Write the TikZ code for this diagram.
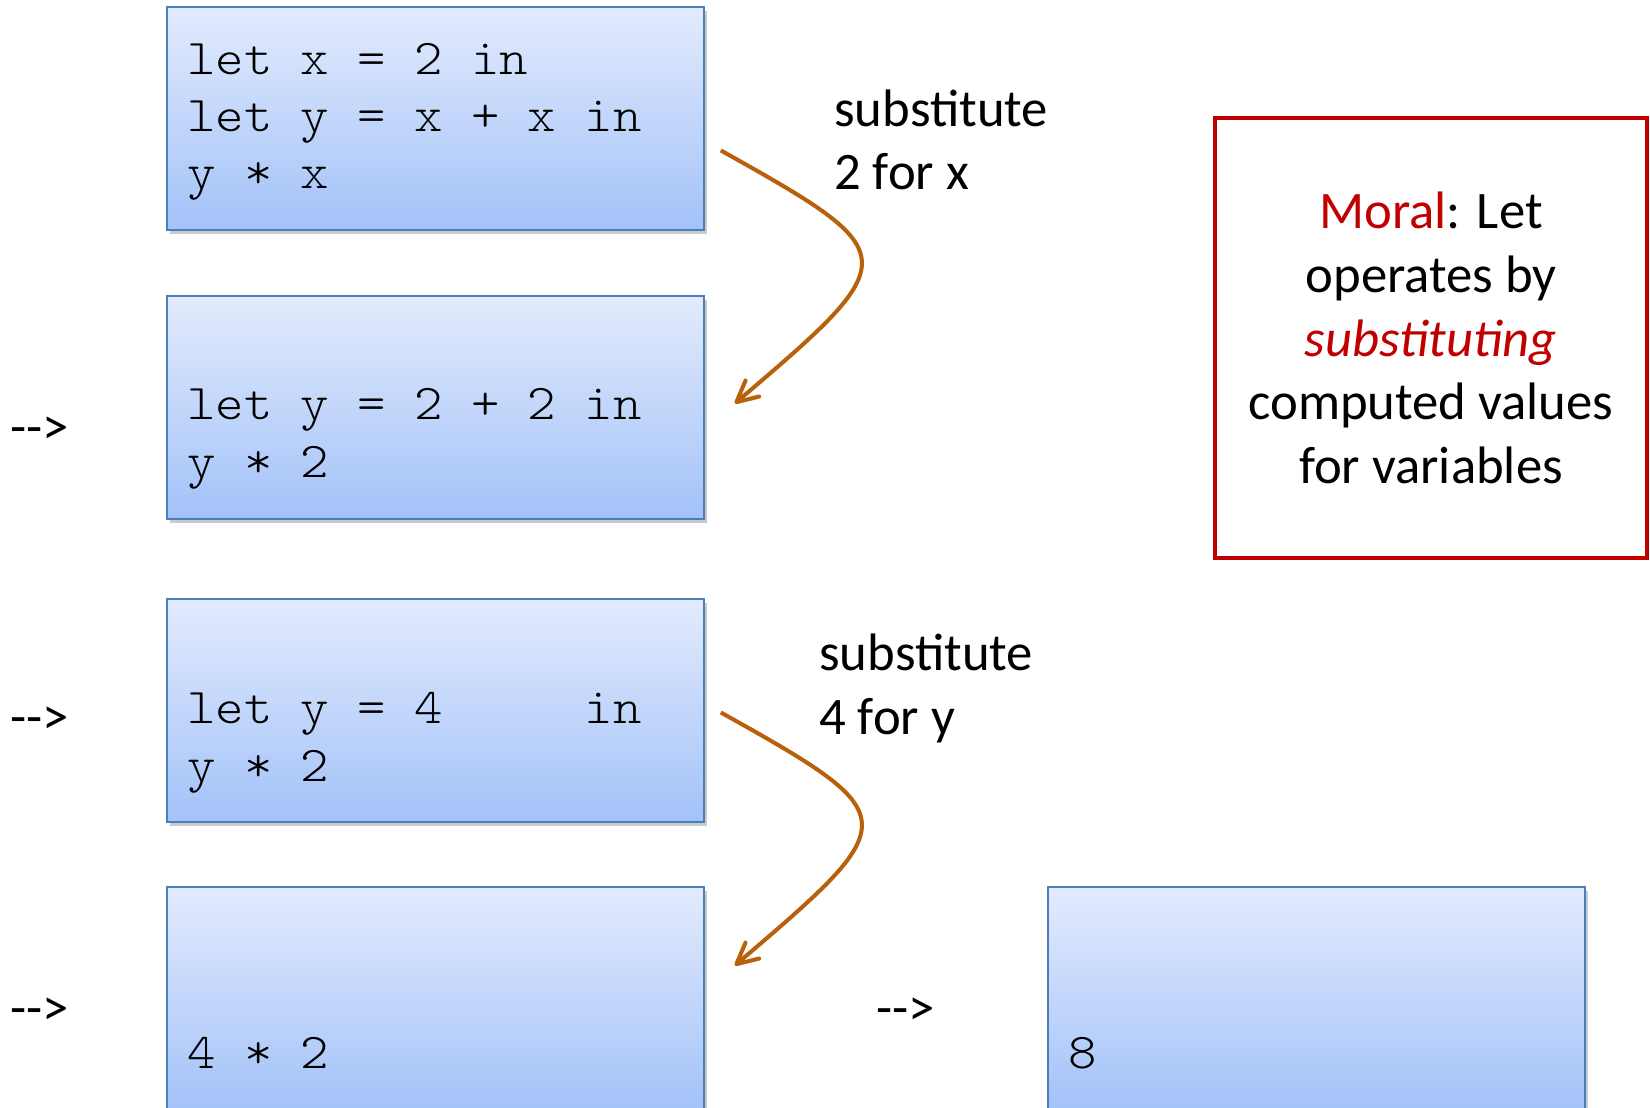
\documentclass[tikz,border=0pt]{standalone}
\usepackage{fontspec}
\setmainfont{Carlito}
\setmonofont{Latin Modern Mono Light}[FakeStretch=1.08]
\usetikzlibrary{arrows.meta,shadows}
\definecolor{boxline}{RGB}{74,126,187}
\definecolor{boxtop}{RGB}{226,235,253}
\definecolor{boxbottom}{RGB}{163,194,248}
\definecolor{substarrow}{RGB}{184,96,10}
\definecolor{moralred}{RGB}{192,0,0}
\begin{document}
\begin{tikzpicture}[x=0.02cm,y=-0.02cm,
  codebox/.style={draw=boxline, line width=1.1pt, top color=boxtop, bottom color=boxbottom,
    minimum width=10.74cm, minimum height=4.46cm, anchor=north west, inner sep=0pt,
    drop shadow={shadow xshift=1.5pt, shadow yshift=-2.5pt, fill=black!60, opacity=0.35}},
  codetext/.style={anchor=base west, inner sep=0pt, align=left,
    font=\fontsize{28.5}{32.6}\selectfont\ttfamily},
  note/.style={anchor=base west, inner sep=0pt, align=left, font=\fontsize{30}{36.3}\selectfont},
  lead/.style={anchor=west, inner sep=0pt, font=\fontsize{30}{36}\selectfont},
  subst/.style={draw=substarrow, line width=2.3pt, -{Straight Barb[round,length=0.42cm,width=0.42cm]}},
  moralbox/.style={draw=moralred, line width=2.3pt, minimum width=8.64cm, minimum height=8.8cm,
    align=center, font=\fontsize{30}{36.3}\selectfont}]
\clip (0,0) rectangle (1650,1108);
% the reduction steps
\node[codebox] (b1) at (166,6) {};
\node[codebox] (b2) at (166,295) {};
\node[codebox] (b3) at (166,598) {};
\node[codebox] (b4) at (166,886) {};
\node[codebox] (b5) at (1047,886) {};
\node[codetext] (c1) at (187,189) {let x = 2 in\\let y = x + x in\\y * x};
\node[codetext] (c2) at (187,477) {let y = 2 + 2 in\\y * 2};
\node[codetext] (c3) at (187,781) {let y = 4\ \ \ \ \ in\\y * 2};
\node[codetext] (c4) at (187,1068) {4 * 2};
\node[codetext] (c5) at (1068,1068) {8};
% arrows between steps
\node[lead] (l2) at (10,431) {-\kern0pt-\kern0pt>};
\node[lead] (l3) at (10,721) {-\kern0pt-\kern0pt>};
\node[lead] (l4) at (10,1012) {-\kern0pt-\kern0pt>};
\node[lead] (l5) at (876,1012) {-\kern0pt-\kern0pt>};
% substitutions
\node[note] (s1) at (834,190) {substitute\\2 for x};
\node[note] (s2) at (819,734) {substitute\\4 for y};
\draw[subst] ([shift={(16,32)}]b1.east) .. controls (906,254) and (906,258) .. ([shift={(30,-4)}]b2.east);
\draw[subst] ([shift={(16,2)}]b3.east) .. controls (906,816) and (906,820) .. ([shift={(30,-33)}]b4.east);
% the moral
\node[moralbox] (moral) at (1431,338) {{\color{moralred}Moral}: Let\\operates by\\{\color{moralred}\itshape substituting}\\computed values\\for variables};
\end{tikzpicture}
\end{document}
